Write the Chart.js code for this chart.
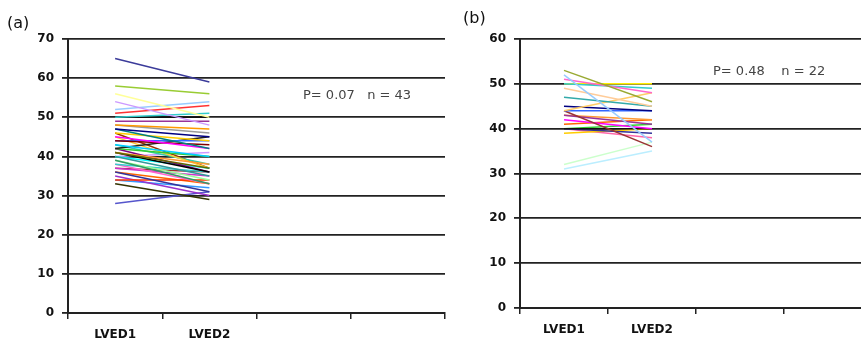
<!DOCTYPE html>
<html>
<head>
<meta charset="utf-8">
<script src="https://cdn.jsdelivr.net/npm/chart.js@4.4.0/dist/chart.umd.min.js"></script>
<style>
  html, body { margin: 0; padding: 0; background: #fff; overflow: hidden; width: 861px; height: 342px; }
  .wrap { position: absolute; top: 0; }
  .tag { position: absolute; font-family: "DejaVu Sans", sans-serif; font-size: 16px; color: #111; }
  .stat { position: absolute; font-family: "DejaVu Sans", sans-serif; font-size: 13px; color: #444; white-space: pre; }
</style>
</head>
<body>
<div class="wrap" style="left:0;width:450px;height:342px"><canvas id="chart-a"></canvas></div>
<div class="wrap" style="left:450px;width:427px;height:342px"><canvas id="chart-b"></canvas></div>
<div class="tag" style="left:7px;top:13px">(a)</div>
<div class="tag" style="left:463px;top:8px">(b)</div>
<div class="stat" style="left:303px;top:87px">P= 0.07   n = 43</div>
<div class="stat" style="left:713px;top:63px">P= 0.48    n = 22</div>
<script>
const categories = ['LVED1', 'LVED2', '', ''];

// panel (a): 43 patients, LVED1 -> LVED2
const lvedA1 = [65, 58, 56, 54, 52, 51, 50, 50, 49, 48, 48, 47, 47, 46, 45, 44, 44, 43, 42, 42, 41, 41,
  41, 42, 40, 40, 39, 39, 38, 38, 37, 37, 36, 34, 35, 33, 28, 34, 45, 43, 46, 40, 36];
const lvedA2 = [59, 56, 50, 48, 54, 53, 51, 50, 49, 47, 46, 45, 42, 44, 42, 43, 44, 40, 45, 40, 37, 38,
  36, 36, 35, 37, 33, 34, 36, 33, 35, 36, 31, 34, 30, 29, 31, 32, 37, 38, 37, 41, 33];
const colorsA = ['#3b3b9a', '#99cc33', '#ffff99', '#cc99ff', '#99ccff', '#ff3333', '#33cccc', '#111111',
  '#993399', '#ff9900', '#999999', '#000080', '#008080', '#ffcc00', '#ff00ff', '#800000', '#3366ff',
  '#00ccff', '#222222', '#33cc33', '#666600', '#ff9933', '#000000', '#800080', '#339999', '#00ffff',
  '#339966', '#99ff99', '#33cccc', '#ff66cc', '#cc33cc', '#993333', '#333399', '#ff3300', '#9933cc',
  '#333300', '#5555cc', '#3399ff', '#ffcc33', '#33ccaa', '#993300', '#cc99ff', '#ff6600'];

// panel (b): 22 patients
const lvedB1 = [53, 52, 51, 50, 50, 49, 47, 44, 45, 44, 44, 43, 43, 42, 41, 40, 40, 39, 40, 40, 32, 31];
const lvedB2 = [46, 37, 48, 49, 50, 45, 45, 48, 44, 44, 36, 41, 42, 40, 42, 40, 39, 40, 41, 38, 37, 35];
const colorsB = ['#99aa33', '#99ccff', '#ff66cc', '#33cccc', '#ffee00', '#ffcc99', '#33aaaa', '#ffcc66',
  '#000080', '#3366ff', '#993333', '#993399', '#ff9933', '#ff00ff', '#ff6600', '#111111', '#333399',
  '#ffcc00', '#33cc33', '#ff66aa', '#ccffcc', '#bbeeff'];

const tickFont = { family: 'DejaVu Sans', size: 12, weight: 'bold' };

function makeChart(id, v1, v2, colors, yMax, yWidth, xHeight, padRight) {
  const datasets = v1.map((a, i) => ({
    data: [a, v2[i], null, null],
    borderColor: colors[i % colors.length],
    borderWidth: 1.5,
    pointRadius: 0,
    tension: 0
  }));
  return new Chart(document.getElementById(id), {
    type: 'line',
    data: { labels: categories, datasets },
    options: {
      responsive: true,
      maintainAspectRatio: false,
      animation: false,
      layout: { padding: { top: 39, right: padRight, left: 0, bottom: 0 } },
      plugins: { legend: { display: false }, tooltip: { enabled: false } },
      scales: {
        x: {
          offset: true,
          grid: { offset: true, drawOnChartArea: false, drawTicks: true, tickLength: 6, color: '#222', lineWidth: 1.5 },
          border: { color: '#222', width: 2 },
          ticks: { font: tickFont, color: '#111', padding: 9, maxRotation: 0 },
          afterFit: s => { s.height = xHeight; }
        },
        y: {
          min: 0, max: yMax,
          grid: { color: '#222', lineWidth: 1.8, tickLength: 6 },
          border: { color: '#222', width: 2 },
          ticks: { stepSize: 10, font: tickFont, color: '#111', padding: 8 },
          afterFit: s => { s.width = yWidth; }
        }
      }
    }
  });
}

makeChart('chart-a', lvedA1, lvedA2, colorsA, 70, 68, 29, 5);
makeChart('chart-b', lvedB1, lvedB2, colorsB, 60, 70, 34, 5);
</script>
</body>
</html>
